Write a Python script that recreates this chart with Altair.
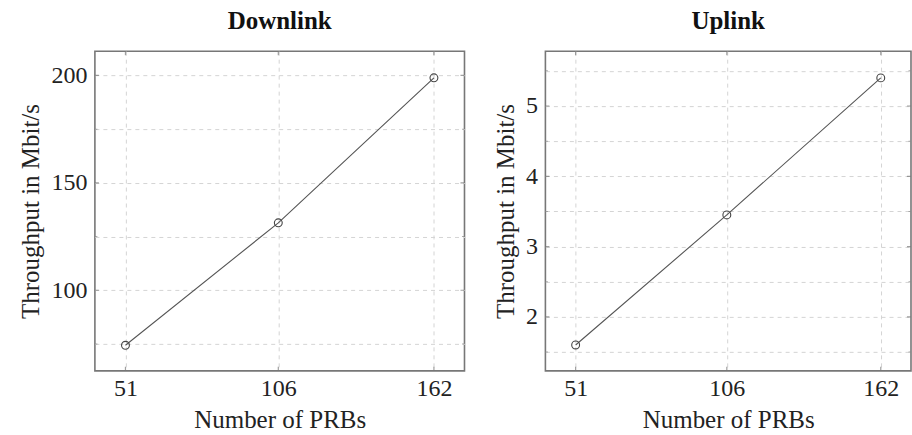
import altair as alt
import pandas as pd

prbs = [51, 106, 162]
downlink = [74.4, 131.4, 198.9]
uplink = [1.6, 3.45, 5.4]

dl_grid = [75, 100, 125, 150, 175, 200]
ul_grid = [1.5, 2, 2.5, 3, 3.5, 4, 4.5, 5, 5.5]

x_domain = [40, 173]
dl_domain = [62.5, 211.3]
ul_domain = [1.232, 5.78]

FONT = "Liberation Serif"


def panel(values, title, ydomain, ygrid, step, width):
    xs = alt.Scale(domain=x_domain, nice=False, zero=False)
    ys = alt.Scale(domain=ydomain, nice=False, zero=False)
    xax = alt.Axis(values=prbs, title="Number of PRBs", format="d",
                   labelPadding=6, titlePadding=7)
    yax = alt.Axis(values=ygrid, title="Throughput in Mbit/s",
                   labelExpr=f"datum.value % {step} === 0 ? format(datum.value, 'd') : ''")
    enc = dict(x=alt.X("prb:Q", scale=xs, axis=xax),
               y=alt.Y("thr:Q", scale=ys, axis=yax))

    df = pd.DataFrame({"prb": prbs, "thr": values})
    base = alt.Chart(df).encode(**enc)
    line = base.mark_line(color="#555", strokeWidth=1.1)
    pts = base.mark_point(shape="circle", size=62, color="#444", filled=False,
                          strokeWidth=1.1, opacity=1)

    # inside tick marks on all four sides (pgfplots style)
    xt = pd.DataFrame([{"prb": p, "thr": yv} for p in prbs for yv in ydomain])
    yt = pd.DataFrame([{"prb": xv, "thr": g, "major": g % step == 0}
                       for g in ygrid for xv in x_domain])
    xticks = alt.Chart(xt).mark_tick(orient="vertical", size=8, thickness=1.2,
                                     color="#777", clip=True).encode(**enc)
    yticks_major = alt.Chart(yt[yt["major"]]).mark_tick(
        orient="horizontal", size=8, thickness=1.2, color="#777", clip=True).encode(**enc)
    yticks_minor = alt.Chart(yt[~yt["major"]]).mark_tick(
        orient="horizontal", size=5, thickness=1, color="#888", clip=True).encode(**enc)

    return alt.layer(line, xticks, yticks_major, yticks_minor, pts).properties(
        width=width, height=320, title=title)


left = panel(downlink, "Downlink", dl_domain, dl_grid, 50, 370)
right = panel(uplink, "Uplink", ul_domain, ul_grid, 1, 366)

chart = alt.hconcat(left, right, spacing=27).properties(
    padding={"left": 18, "top": 8, "right": 0, "bottom": 0},
    background="white",
).configure_axis(
    grid=True, gridDash=[4, 4], gridColor="#d4d4d4", gridWidth=1,
    domain=False, ticks=False,
    labelFont=FONT, labelFontSize=24, labelColor="#222", labelPadding=8,
    titleFont=FONT, titleFontSize=25, titleFontWeight="normal", titleColor="#222",
    titlePadding=7,
).configure_view(
    stroke="#777", strokeWidth=1.6,
).configure_title(
    font=FONT, fontSize=25, fontWeight="bold", color="#111", offset=17,
)

chart.save("out.html", embed_options={"renderer": "svg", "actions": False})
